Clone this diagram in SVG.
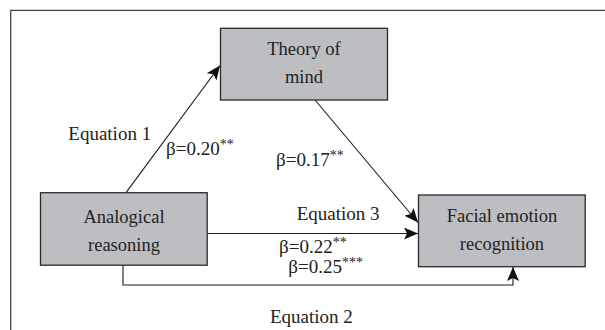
<svg xmlns="http://www.w3.org/2000/svg" width="605" height="330" viewBox="0 0 605 330">
<style>
  .box { fill: #bdbec2; stroke: #2a2a2a; stroke-width: 1.3; }
  text { font-family: "Liberation Serif", "DejaVu Serif", serif; font-size: 18.5px; fill: #222; }
  .c { text-anchor: middle; }
  .lbl { font-size: 19px; }
  .sup { font-size: 14px; }
  .ln { fill: none; stroke: #1a1a1a; stroke-width: 1.1; }
  .frame { fill: none; stroke: #444; stroke-width: 1.3; }
</style>
<defs>
  <marker id="ah" markerUnits="userSpaceOnUse" markerWidth="16" markerHeight="12" refX="14" refY="6" orient="auto">
    <path d="M0,0 L14,6 L0,12 L3,6 Z" fill="#111"/>
  </marker>
</defs>
<rect width="605" height="330" fill="#fff"/>
<path class="frame" d="M10.7,330 V10.3 H605"/>

<g id="connectors">
  <line class="ln" x1="126" y1="192.7" x2="220" y2="65.5" marker-end="url(#ah)"/>
  <line class="ln" x1="315" y1="100" x2="418" y2="222.5" marker-end="url(#ah)"/>
  <line class="ln" x1="207" y1="233.5" x2="418" y2="233.5" marker-end="url(#ah)"/>
  <path class="ln" d="M123,265 V285 H513 V267" marker-end="url(#ah)"/>
</g>

<g id="node-theory">
  <rect class="box" x="220.5" y="28.3" width="167" height="71.7"/>
  <text class="c" x="304" y="55">Theory of</text>
  <text class="c" x="304" y="82.7">mind</text>
</g>
<g id="node-analogical">
  <rect class="box" x="40.5" y="192.7" width="166.7" height="72.5"/>
  <text class="c" x="124" y="223.3">Analogical</text>
  <text class="c" x="124" y="250.5">reasoning</text>
</g>
<g id="node-facial">
  <rect class="box" x="418.5" y="195" width="166.7" height="71.7"/>
  <text class="c" x="502" y="221.7">Facial emotion</text>
  <text class="c" x="502" y="250">recognition</text>
</g>

<g id="labels">
  <text class="lbl" x="68.3" y="140">Equation 1</text>
  <text class="lbl" x="166" y="155">β=0.20<tspan class="sup" dy="-6">**</tspan></text>
  <text class="lbl" x="276" y="165.7">β=0.17<tspan class="sup" dy="-6">**</tspan></text>
  <text class="lbl" x="296.7" y="220">Equation 3</text>
  <text class="lbl" x="279" y="253.3">β=0.22<tspan class="sup" dy="-6">**</tspan></text>
  <text class="lbl" x="288.3" y="273.3">β=0.25<tspan class="sup" dy="-6">***</tspan></text>
  <text class="lbl" x="270" y="323.3">Equation 2</text>
</g>
</svg>
